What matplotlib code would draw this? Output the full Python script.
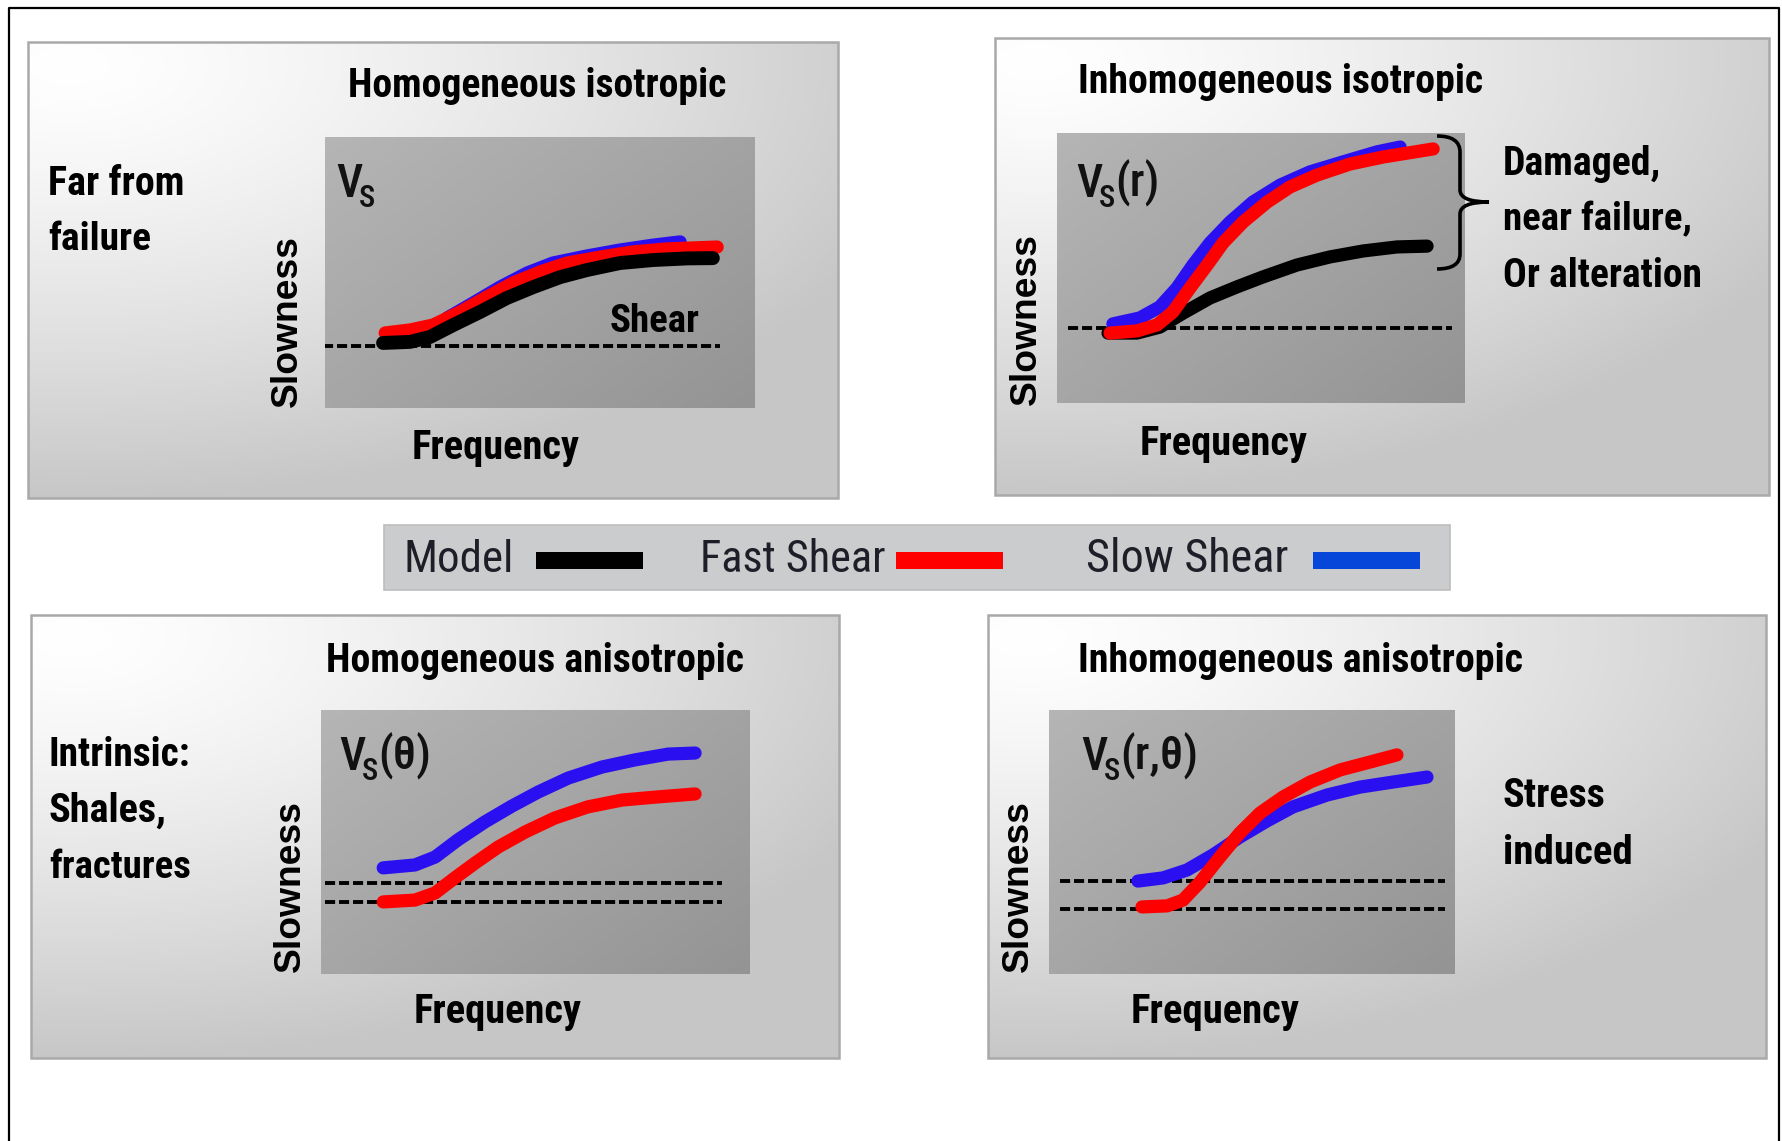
import numpy as np
import matplotlib.pyplot as plt
from matplotlib.path import Path
from matplotlib.patches import PathPatch, Rectangle

W, H = 1783, 1141
NARROW = ['Roboto Condensed', 'Arial Narrow', 'Fira Sans Condensed', 'DejaVu Sans']
WIDE = ['Liberation Sans', 'DejaVu Sans']

# ---- curves: (frequency, slowness), 0..1 inside each plot box ----
# homogeneous isotropic
hi_base = 0.229
hi_model_f = [0.135, 0.198, 0.244, 0.298, 0.36, 0.423, 0.484, 0.547, 0.609, 0.686, 0.763, 0.842, 0.902]
hi_model_s = [0.24, 0.244, 0.262, 0.306, 0.354, 0.406, 0.446, 0.483, 0.509, 0.535, 0.546, 0.552, 0.553]
hi_fast_f = [0.14, 0.198, 0.251, 0.314, 0.377, 0.437, 0.5, 0.563, 0.64, 0.716, 0.795, 0.912]
hi_fast_s = [0.277, 0.288, 0.306, 0.354, 0.41, 0.461, 0.502, 0.535, 0.557, 0.576, 0.587, 0.594]
hi_slow_f = [0.284, 0.344, 0.407, 0.47, 0.53, 0.609, 0.686, 0.763, 0.826]
hi_slow_s = [0.332, 0.387, 0.446, 0.498, 0.535, 0.561, 0.583, 0.601, 0.613]

# inhomogeneous isotropic
ii_base = 0.278
ii_model_f = [0.125, 0.196, 0.252, 0.309, 0.375, 0.441, 0.505, 0.588, 0.669, 0.75, 0.833, 0.907]
ii_model_s = [0.259, 0.259, 0.281, 0.333, 0.389, 0.43, 0.467, 0.511, 0.541, 0.563, 0.578, 0.581]
ii_fast_f = [0.13, 0.196, 0.245, 0.284, 0.326, 0.368, 0.407, 0.456, 0.515, 0.571, 0.637, 0.718, 0.799, 0.922]
ii_fast_s = [0.259, 0.267, 0.289, 0.337, 0.426, 0.511, 0.593, 0.67, 0.744, 0.8, 0.844, 0.885, 0.911, 0.941]
ii_slow_f = [0.137, 0.203, 0.252, 0.294, 0.333, 0.375, 0.424, 0.48, 0.547, 0.62, 0.701, 0.784, 0.841]
ii_slow_s = [0.293, 0.315, 0.356, 0.426, 0.511, 0.593, 0.67, 0.744, 0.807, 0.856, 0.893, 0.93, 0.948]

# homogeneous anisotropic
ha_base = [0.345, 0.273]
ha_slow_f = [0.145, 0.219, 0.266, 0.319, 0.382, 0.445, 0.506, 0.576, 0.655, 0.732, 0.809, 0.872]
ha_slow_s = [0.402, 0.413, 0.443, 0.508, 0.576, 0.636, 0.689, 0.742, 0.784, 0.811, 0.833, 0.837]
ha_fast_f = [0.145, 0.219, 0.266, 0.312, 0.359, 0.413, 0.476, 0.545, 0.622, 0.702, 0.779, 0.872]
ha_fast_s = [0.273, 0.28, 0.307, 0.364, 0.42, 0.481, 0.538, 0.591, 0.633, 0.659, 0.67, 0.682]

# inhomogeneous anisotropic
ia_base = [0.352, 0.246]
ia_slow_f = [0.219, 0.281, 0.34, 0.404, 0.47, 0.537, 0.601, 0.685, 0.766, 0.847, 0.931]
ia_slow_s = [0.352, 0.364, 0.394, 0.451, 0.519, 0.58, 0.633, 0.678, 0.708, 0.727, 0.746]
ia_fast_f = [0.229, 0.291, 0.33, 0.372, 0.421, 0.47, 0.52, 0.576, 0.643, 0.717, 0.791, 0.857]
ia_fast_s = [0.254, 0.258, 0.28, 0.348, 0.443, 0.534, 0.61, 0.67, 0.727, 0.773, 0.803, 0.83]

leg_names = ['Model', 'Fast Shear', 'Slow Shear']

MODEL_C = '#000000'
FAST_C = '#ff0000'
SLOW_C = '#2a10f0'
LEG_BLUE = '#0646d8'

fig = plt.figure(figsize=(W / 100, H / 100), dpi=100, facecolor='white')
bg = fig.add_axes([0, 0, 1, 1], zorder=0)
top = fig.add_axes([0, 0, 1, 1], zorder=10)
for a in (bg, top):
    a.set_xlim(0, W)
    a.set_ylim(H, 0)
    a.axis('off')
top.patch.set_alpha(0)
renderer = fig.canvas.get_renderer()

# outer frame, open at the bottom
top.plot([9, 9, 1779, 1779], [H, 8, 8, H], color='black', lw=1.6)


def panel(x0, y0, x1, y1):
    yy, xx = np.mgrid[0:1:200j, 0:1:300j]
    d = np.sqrt(((xx - 0.05) / 1.1) ** 2 + ((yy - 0.05) / 0.95) ** 2)
    v = 1.0 - 0.22 * np.clip(d, 0, 1) ** 1.3
    bg.imshow(np.dstack([v, v, v]), extent=(x0, x1, y1, y0), aspect='auto', zorder=2)
    bg.add_patch(Rectangle((x0, y0), x1 - x0, y1 - y0, fill=False,
                           ec='#a9a9a9', lw=1.8, zorder=3))


def plot_box(x0, y0, x1, y1):
    ax = fig.add_axes([x0 / W, 1 - y1 / H, (x1 - x0) / W, (y1 - y0) / H], zorder=1)
    yy, xx = np.mgrid[0:1:100j, 0:1:150j]
    v = 0.71 - 0.13 * (0.55 * xx + 0.45 * yy)
    ax.imshow(np.dstack([v, v, v]), extent=(0, 1, 0, 1), aspect='auto', zorder=0)
    ax.set_xlim(0, 1)
    ax.set_ylim(0, 1)
    ax.axis('off')
    return ax


def curve(ax, f, s, color, lw=9.5):
    ax.plot(f, s, color=color, lw=lw, solid_capstyle='round',
            solid_joinstyle='round', zorder=3)


def base(ax, y, x0, x1):
    ax.plot([x0, x1], [y, y], color='black', lw=2.8, ls=(0, (2.6, 1.0)), zorder=2)


def txt(x, y, s, width=None, size=28, weight='bold', color='black', **kw):
    t = top.text(x, y, s, fontsize=size, fontweight=weight, color=color,
                 family=NARROW, va='baseline', **kw)
    if width:
        w = t.get_window_extent(renderer).width
        t.set_fontsize(size * width / w)
    return t


def vs(x, y, suffix):
    # V with subscript S, then the argument in brackets
    t = txt(x, y, 'V', size=33, weight='medium', color='#111111')
    r = t.get_window_extent(renderer).x1
    s = txt(r - 3, y + 10, 'S', size=22, weight='medium', color='#111111')
    if suffix:
        r = s.get_window_extent(renderer).x1
        txt(r, y, suffix, size=33, weight='medium', color='#111111')


def slowness(x, y):
    t = top.text(x, y, 'Slowness', rotation=90, fontsize=26, fontweight='bold',
                 family=WIDE, ha='center', va='bottom')
    h = t.get_window_extent(renderer).height
    t.set_fontsize(26 * 172 / h)


# ---- top left ----
panel(28, 42, 838, 498)
ax1 = plot_box(325, 137, 755, 408)
base(ax1, hi_base, -0.005, 0.919)
curve(ax1, hi_slow_f, hi_slow_s, SLOW_C)
curve(ax1, hi_fast_f, hi_fast_s, FAST_C)
curve(ax1, hi_model_f, hi_model_s, MODEL_C, lw=10)
txt(348, 97, 'Homogeneous isotropic', 379)
txt(48, 195, 'Far from', 137)
txt(48, 250, 'failure', 103)
vs(336, 197, '')
txt(610, 332, 'Shear', 90)
txt(412, 459, 'Frequency', 168)
slowness(287, 407)

# ---- top right ----
panel(995, 38, 1769, 495)
ax2 = plot_box(1057, 133, 1465, 403)
base(ax2, ii_base, 0.027, 0.968)
curve(ax2, ii_model_f, ii_model_s, MODEL_C)
curve(ax2, ii_slow_f, ii_slow_s, SLOW_C)
curve(ax2, ii_fast_f, ii_fast_s, FAST_C)
txt(1078, 93, 'Inhomogeneous isotropic', 406)
vs(1076, 197, '(r)')
txt(1140, 455, 'Frequency', 168)
slowness(1026, 405)
for line, yb, wd in zip(['Damaged,', 'near failure,', 'Or alteration'], [175, 230, 287], [158, 189, 199]):
    txt(1503, yb, line, wd)

# curly brace
bx, tip = 1460, 1489
verts = [(1437, 136), (bx, 136), (bx, 152), (bx, 190), (bx, 202), (tip, 202),
         (bx, 202), (bx, 214), (bx, 254), (bx, 269), (1437, 269)]
codes = [Path.MOVETO, Path.CURVE3, Path.CURVE3, Path.LINETO, Path.CURVE3, Path.CURVE3,
         Path.CURVE3, Path.CURVE3, Path.LINETO, Path.CURVE3, Path.CURVE3]
top.add_patch(PathPatch(Path(verts, codes), fill=False, lw=2.6, ec='black'))

# ---- legend strip ----
bg.add_patch(Rectangle((384, 525), 1066, 65, fc='#cbcccd', ec='#bdbdbd', lw=1.2, zorder=2))
leg_colors = [MODEL_C, FAST_C, LEG_BLUE]
leg_text_x = [404, 700, 1086]
leg_text_w = [110, 186, 203]
leg_bar_x = [536, 896, 1313]
for name, c, tx, tw, bx0 in zip(leg_names, leg_colors, leg_text_x, leg_text_w, leg_bar_x):
    txt(tx, 572, name, tw, size=30, weight='normal', color='#1e1e28')
    top.add_patch(Rectangle((bx0, 552), 107, 17, fc=c, ec='none'))

# ---- bottom left ----
panel(31, 615, 839, 1058)
ax3 = plot_box(321, 710, 750, 974)
for b in ha_base:
    base(ax3, b, 0.009, 0.934)
curve(ax3, ha_slow_f, ha_slow_s, SLOW_C)
curve(ax3, ha_fast_f, ha_fast_s, FAST_C)
txt(326, 672, 'Homogeneous anisotropic', 419)
for line, yb, wd in zip(['Intrinsic:', 'Shales,', 'fractures'], [766, 822, 878], [142, 118, 142]):
    txt(49, yb, line, wd)
vs(339, 770, '(θ)')
txt(414, 1023, 'Frequency', 168)
slowness(290, 972)

# ---- bottom right ----
panel(988, 615, 1766, 1058)
ax4 = plot_box(1049, 710, 1455, 974)
for b in ia_base:
    base(ax4, b, 0.027, 0.975)
curve(ax4, ia_slow_f, ia_slow_s, SLOW_C)
curve(ax4, ia_fast_f, ia_fast_s, FAST_C)
txt(1078, 672, 'Inhomogeneous anisotropic', 446)
txt(1503, 807, 'Stress', 103)
txt(1503, 864, 'induced', 130)
vs(1081, 770, '(r,θ)')
txt(1131, 1023, 'Frequency', 169)
slowness(1018, 972)

fig.savefig('out.png', dpi=100, facecolor='white')
